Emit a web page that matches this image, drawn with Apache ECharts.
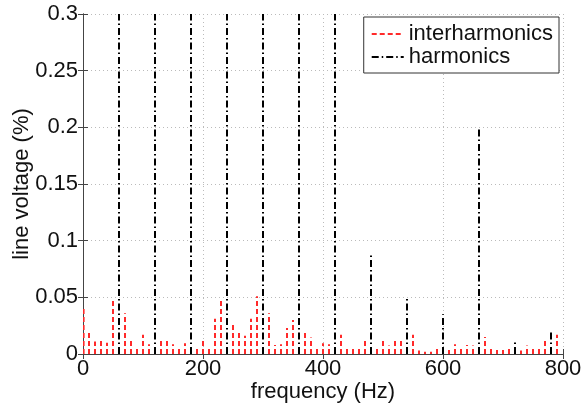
<!DOCTYPE html>
<html>
<head>
<meta charset="utf-8">
<script src="https://cdn.jsdelivr.net/npm/echarts@6/dist/echarts.min.js"></script>
<style>html,body{margin:0;padding:0;background:#fff}#c{width:583px;height:409px}</style>
</head>
<body>
<div id="c"></div>
<script>
var interFreq = [1,10,20,30,40,50,70,80,90,100,110,130,140,150,160,170,190,200,210,220,230,250,260,270,280,290,310,320,330,340,350,370,380,390,400,410,430,440,450,460,470,490,500,510,520,530,550,560,570,580,590,610,620,630,640,650,670,680,690,700,710,730,740,750,760,770,790];
var interVals = [0.042,0.021,0.011,0.012,0.010,0.049,0.036,0.014,0.006,0.017,0.0085,0.014,0.014,0.0085,0.0065,0.0094,0.0044,0.012,0.005,0.031,0.0485,0.027,0.021,0.016,0.031,0.051,0.036,0.008,0.0085,0.023,0.030,0.020,0.0145,0.005,0.0094,0.0085,0.017,0.0065,0.005,0.005,0.012,0.005,0.0115,0.0074,0.0115,0.012,0.017,0.003,0.002,0.002,0.0056,0.0035,0.0085,0.0065,0.008,0.0074,0.015,0.0056,0.0035,0.0035,0.0056,0.003,0.0074,0.0056,0.0065,0.012,0.017];
var harmFreq = [60,120,180,240,300,360,420,480,540,600,660,720,780];
var harmVals = [0.5,0.5,0.5,0.5,0.5,0.5,0.5,0.088,0.05,0.035,0.2,0.0115,0.020];
var xTicks = [0,200,400,600,800];
var yTicks = [0,0.05,0.1,0.15,0.2,0.25,0.3];

function pairs(fr, vals) {
  var d = [];
  for (var i = 0; i < fr.length; i++) d.push([fr[i], vals[i]]);
  return d;
}

var font = 'Liberation Sans, Arial, Helvetica, sans-serif';
var axisCol = '#444';
var fs = 22;
var RED = '#ff2a2a';
var interDash = [5, 3];
var harmDash = [7, 3, 1.5, 3];

function stemRenderer(color, dash) {
  return function (params, api) {
    var p0 = api.coord([api.value(0), 0]);
    var p1 = api.coord([api.value(0), api.value(1)]);
    return {
      type: 'line',
      shape: {x1: p0[0], y1: p0[1], x2: p1[0], y2: p1[1]},
      style: {stroke: color, lineWidth: 2, lineDash: dash, fill: null}
    };
  };
}

var chart = echarts.init(document.getElementById('c'), null, {renderer: 'canvas'});
var baseX = {
  type: 'value', min: xTicks[0], max: xTicks[xTicks.length - 1], interval: 200,
  axisLine: {show: true, lineStyle: {color: axisCol, width: 1}},
  axisTick: {show: true, inside: true, length: 5, lineStyle: {color: axisCol}},
  splitLine: {show: false}
};
var baseY = {
  type: 'value', min: yTicks[0], max: yTicks[yTicks.length - 1], interval: 0.05,
  axisLine: {show: true, lineStyle: {color: axisCol, width: 1}},
  axisTick: {show: true, inside: true, length: 5, lineStyle: {color: axisCol}},
  splitLine: {show: false}
};
chart.setOption({
  animation: false,
  backgroundColor: '#fff',
  grid: {left: 83, right: 20, top: 14, bottom: 55, containLabel: false, outerBoundsMode: 'none'},
  legend: {
    orient: 'vertical', right: 24, top: 17,
    backgroundColor: '#fff', borderColor: '#333', borderWidth: 1, borderRadius: 0,
    padding: [6, 6, 5, 7], itemGap: 1, itemWidth: 32, itemHeight: 14,
    itemStyle: {color: 'rgba(0,0,0,0)', borderWidth: 0, opacity: 0},
    textStyle: {fontFamily: font, fontSize: fs, color: '#111', lineHeight: 22},
    data: ['interharmonics', 'harmonics']
  },
  xAxis: [
    Object.assign({}, baseX, {
      position: 'bottom',
      name: 'frequency (Hz)', nameLocation: 'middle', nameGap: 27, nameMoveOverlap: false,
      nameTextStyle: {fontFamily: font, fontSize: fs, color: '#111'},
      axisLabel: {fontFamily: font, fontSize: fs, color: '#111', margin: 4},
      splitLine: {show: true, lineStyle: {color: '#bbb', type: [1, 3], width: 1}}
    }),
    Object.assign({}, baseX, {position: 'top', axisLabel: {show: false}})
  ],
  yAxis: [
    Object.assign({}, baseY, {
      position: 'left',
      name: 'line voltage (%)', nameLocation: 'middle', nameGap: 50, nameMoveOverlap: false,
      nameTextStyle: {fontFamily: font, fontSize: fs, color: '#111'},
      axisLabel: {fontFamily: font, fontSize: fs, color: '#111', margin: 5,
        formatter: function (v) { return String(Math.round(v * 100) / 100); }},
      splitLine: {show: true, lineStyle: {color: '#bbb', type: [1, 3], width: 1}}
    }),
    Object.assign({}, baseY, {position: 'right', axisLabel: {show: false}})
  ],
  series: [
    {
      name: 'interharmonics', type: 'line', data: [], symbol: 'none', color: RED,
      lineStyle: {color: RED, width: 2, type: interDash}
    },
    {
      name: 'harmonics', type: 'line', data: [], symbol: 'none', color: '#000',
      lineStyle: {color: '#000', width: 2, type: harmDash}
    },
    {
      name: 'interharmonics', type: 'custom', xAxisIndex: 0, yAxisIndex: 0, clip: true,
      data: pairs(interFreq, interVals), renderItem: stemRenderer(RED, interDash)
    },
    {
      name: 'harmonics', type: 'custom', xAxisIndex: 0, yAxisIndex: 0, clip: true,
      data: pairs(harmFreq, harmVals), renderItem: stemRenderer('#000', harmDash)
    }
  ]
});
</script>
</body>
</html>
